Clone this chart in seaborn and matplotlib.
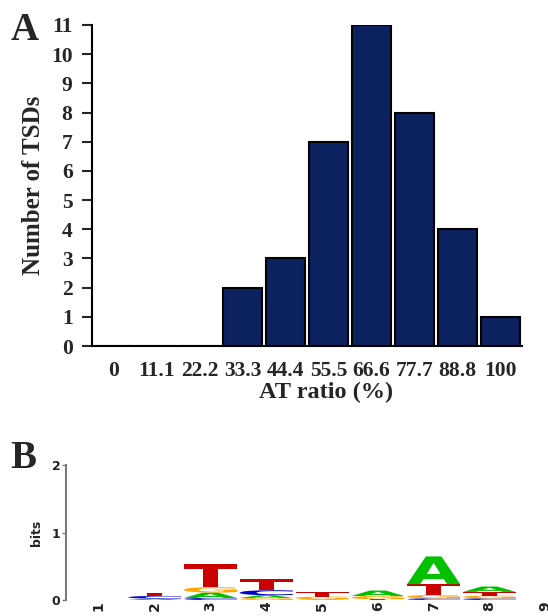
import numpy as np
import pandas as pd
import matplotlib
matplotlib.use('Agg')
import matplotlib.pyplot as plt
import seaborn as sns
from matplotlib.textpath import TextPath
from matplotlib.patches import PathPatch
from matplotlib.font_manager import FontProperties
from matplotlib.transforms import Affine2D

# Panel A data
at_ratio = ['0', '11.1', '22.2', '33.3', '44.4', '55.5', '66.6', '77.7', '88.8', '100']
tsd_count = [0, 0, 0, 2, 3, 7, 11, 8, 4, 1]

# Panel B data (bits per base at each position)
positions = [1, 2, 3, 4, 5, 6, 7, 8, 9]
bits_A = [0.0, 0.02, 0.08, 0.04, 0.01, 0.08, 0.41, 0.08, 0.0]
bits_C = [0.0, 0.04, 0.03, 0.075, 0.0, 0.0, 0.025, 0.025, 0.0]
bits_G = [0.0, 0.0, 0.08, 0.03, 0.04, 0.05, 0.05, 0.04, 0.0]
bits_T = [0.0, 0.05, 0.34, 0.16, 0.07, 0.01, 0.16, 0.055, 0.0]

base_colors = {'A': '#00C000', 'C': '#0000C8', 'G': '#FFA800', 'T': '#CC0000'}

sns.set_style('white')
plt.rcParams['font.family'] = ['Liberation Serif', 'DejaVu Serif']

fig = plt.figure(figsize=(5.48, 6.16), dpi=100)

# ---- panel A ----
axA = fig.add_axes([92/548, 1-346/616, 430/548, 321/616])
df = pd.DataFrame({'AT ratio (%)': at_ratio, 'Number of TSDs': tsd_count})
sns.barplot(data=df, x='AT ratio (%)', y='Number of TSDs', order=at_ratio,
            color='#0B2160', saturation=1, width=0.9,
            edgecolor='black', linewidth=1.5, ax=axA)
axA.set_xlim(-0.5, 9.5)
axA.set_ylim(0, 11)
axA.set_yticks(range(0, 12))
sns.despine(ax=axA)
for s in ['left', 'bottom']:
    axA.spines[s].set_color('black')
    axA.spines[s].set_linewidth(1.5)
axA.tick_params(axis='y', left=True, length=7, width=1.5, direction='out',
                labelsize=15.5, pad=7)
axA.tick_params(axis='x', bottom=False, length=0, labelsize=15.5, pad=11)
for lab in axA.get_xticklabels() + axA.get_yticklabels():
    lab.set_fontweight('bold')
axA.set_xlabel('AT ratio (%)', fontsize=17.5, fontweight='bold')
axA.xaxis.set_label_coords(0.544, -0.112)
axA.set_ylabel('Number of TSDs', fontsize=18, fontweight='bold', labelpad=4)
fig.text(25/548, 1-30/616, 'A', fontsize=28, fontweight='bold',
         ha='center', va='center')

# ---- panel B (sequence logo) ----
axB = fig.add_axes([66/548, 1-600/616, 482/548, 135/616])
axB.set_xlim(0.41, 9.05)
axB.set_ylim(0, 2)

logo_font = FontProperties(family='DejaVu Sans', weight='bold')
col_w = 0.95
for i, pos in enumerate(positions):
    heights = {'A': bits_A[i], 'C': bits_C[i], 'G': bits_G[i], 'T': bits_T[i]}
    bottom = 0.0
    for base in sorted(heights, key=lambda b: heights[b]):
        h = heights[base]
        if h <= 0:
            continue
        tp = TextPath((0, 0), base, size=1, prop=logo_font)
        ext = tp.get_extents()
        tr = (Affine2D().translate(-ext.x0, -ext.y0)
              .scale(col_w / ext.width, h / ext.height)
              .translate(pos - col_w / 2, bottom))
        patch = PathPatch(tr.transform_path(tp), facecolor=base_colors[base],
                          edgecolor='none', transform=axB.transData)
        axB.add_patch(patch)
        bottom += h

for s in ['top', 'right', 'bottom']:
    axB.spines[s].set_visible(False)
axB.spines['left'].set_color('#7a7a7a')
axB.spines['left'].set_linewidth(1.5)
axB.set_yticks([0, 1, 2])
axB.set_xticks(positions)
axB.set_xticklabels([str(p) for p in positions], rotation=90,
                    fontfamily='DejaVu Sans', fontweight='bold',
                    fontsize=10, color='#222222', va='top')
axB.tick_params(axis='x', bottom=False, length=0, pad=1)
axB.tick_params(axis='y', left=True, length=3, width=1, color='#7a7a7a',
                labelsize=9, labelcolor='#222222', pad=1)
for lab in axB.get_yticklabels():
    lab.set_fontfamily('DejaVu Sans')
    lab.set_fontweight('bold')
axB.set_ylabel('bits', fontfamily='DejaVu Sans', fontweight='bold',
               fontsize=9, color='#222222', labelpad=6)
fig.text(23/548, 1-459/616, 'B', fontsize=28, fontweight='bold',
         ha='center', va='center')

fig.savefig('out.png', dpi=100)
